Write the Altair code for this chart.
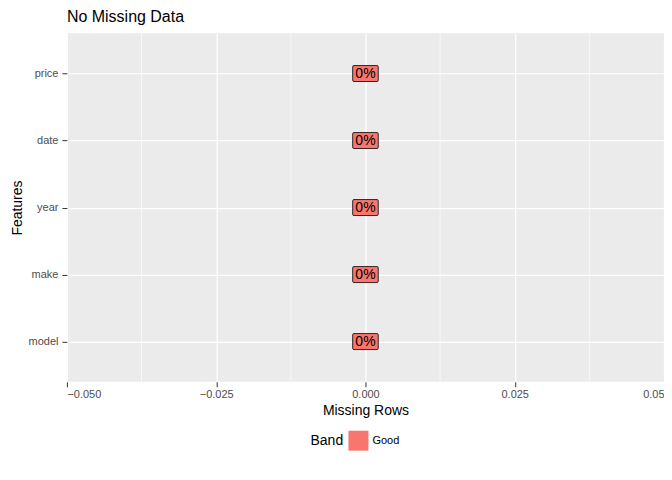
import altair as alt
import pandas as pd

features = ["price", "date", "year", "make", "model"]
missing = [0.0, 0.0, 0.0, 0.0, 0.0]
labels = ["0%", "0%", "0%", "0%", "0%"]
band = ["Good", "Good", "Good", "Good", "Good"]
minor_ticks = [-0.0375, -0.0125, 0.0125, 0.0375]
major_ticks = [-0.05, -0.025, 0.0, 0.025, 0.05]

df = pd.DataFrame({"feature": features, "missing": missing, "label": labels, "band": band})
minor = pd.DataFrame({"v": minor_ticks})

FONT = "Liberation Sans"
x_scale = alt.Scale(domain=[-0.05, 0.05], nice=False, zero=False)
y_scale = alt.Scale(type="point", domain=features, padding=0.6)

box = ("M-1.15,-0.8 L1.15,-0.8 Q1.28,-0.8 1.28,-0.67 L1.28,0.67 Q1.28,0.8 1.15,0.8 "
       "L-1.15,0.8 Q-1.28,0.8 -1.28,0.67 L-1.28,-0.67 Q-1.28,-0.8 -1.15,-0.8 Z")

minor_rules = alt.Chart(minor).mark_rule(color="white", strokeWidth=0.6).encode(
    x=alt.X("v:Q", scale=x_scale)
)

boxes = alt.Chart(df).mark_point(shape=box, size=400, filled=True, opacity=1,
                                 stroke="black", strokeWidth=0.8).encode(
    x=alt.X("missing:Q", scale=x_scale, title="Missing Rows",
            axis=alt.Axis(values=major_ticks, labelExpr="datum.value == 0.05 ? '0.05' : format(datum.value, '.3f')",
                          gridColor="white", gridWidth=1.2, domain=False, tickColor="#333333",
                          labelColor="#4D4D4D", labelFontSize=11, titleFontSize=14,
                          titleFontWeight="normal", titleColor="black", labelFont=FONT, titleFont=FONT)),
    y=alt.Y("feature:N", scale=y_scale, sort=features, title="Features",
            axis=alt.Axis(grid=True, gridColor="white", gridWidth=1.2, domain=False, tickColor="#333333",
                          labelColor="#4D4D4D", labelFontSize=11, titleFontSize=14,
                          titleFontWeight="normal", titleColor="black", labelFont=FONT, titleFont=FONT,
                          labelPadding=4)),
    color=alt.Color("band:N", scale=alt.Scale(domain=["Good"], range=["#F8766D"]), title="Band",
                    legend=alt.Legend(orient="none", legendX=244, legendY=398,
                                      direction="horizontal", titleOrient="left",
                                      symbolType="square", symbolSize=400, symbolStrokeWidth=0,
                                      titleFontSize=14, titleFontWeight="normal", labelFontSize=11,
                                      titleFont=FONT, labelFont=FONT)),
)

texts = alt.Chart(df).mark_text(fontSize=14, font=FONT, color="black").encode(
    x=alt.X("missing:Q", scale=x_scale),
    y=alt.Y("feature:N", scale=y_scale, sort=features),
    text="label:N",
)

chart = alt.layer(minor_rules, boxes, texts).properties(
    width=598, height=349,
    title=alt.TitleParams("No Missing Data", anchor="start", frame="group", fontSize=16, font=FONT,
                          fontWeight="normal", color="black", offset=8),
    autosize=alt.AutoSizeParams(type="none"),
    padding={"left": 59, "top": 25, "right": 0, "bottom": 90},
).configure_view(fill="#EBEBEB", stroke=None)

chart.save("out.html", embed_options={"renderer": "svg", "actions": False})
